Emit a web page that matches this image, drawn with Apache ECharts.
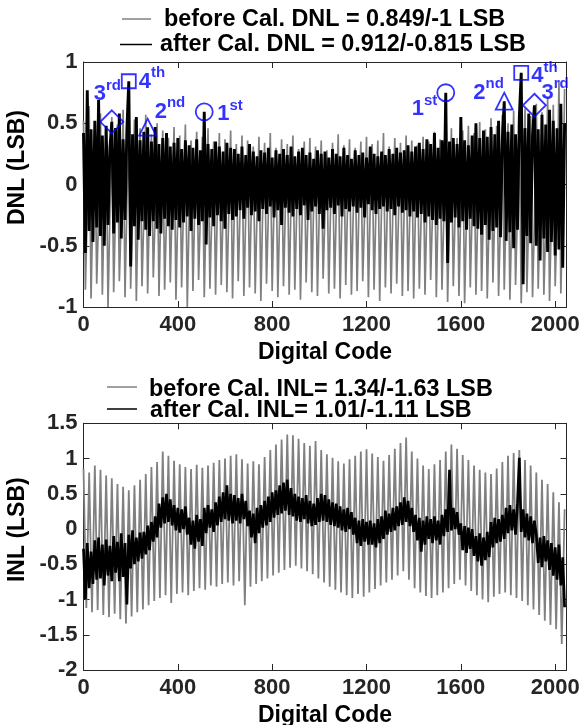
<!DOCTYPE html>
<html>
<head>
<meta charset="utf-8">
<script src="https://cdn.jsdelivr.net/npm/echarts@6/dist/echarts.min.js"></script>
<style>
  html, body { margin: 0; padding: 0; background: #fff; }
  #chart { width: 580px; height: 725px; }
</style>
</head>
<body>
<div id="chart"></div>
<script>
// ---- data -------------------------------------------------------------
const codeMax = 2048;
const xTickStep = 400;

// DNL samples every 8 codes (codes 0 .. 2040)
const dnlStep = 8;

// before calibration: groups of (peak, missing-code dip, settle)
const dnlBefore = [
  0.52, -0.86, -0.21,  0.64, -0.93, -0.15,  0.47, -0.81, -0.26,  0.58, -0.90, -0.12,  0.44, -1.00, -0.24,
  0.55, -0.88, -0.18,  0.49, -0.79, -0.27,  0.61, -0.92, -0.14,  0.42, -0.85, -0.22,  0.53, -0.95, -0.17,
  0.46, -0.83, -0.25,  0.57, -0.89, -0.13,  0.41, -0.76, -0.23,  0.50, -0.91, -0.19,  0.44, -0.86, -0.26,
  0.38, -0.80, -0.15,  0.47, -0.94, -0.21,  0.40, -0.84, -0.18,  0.49, -1.00, -0.24,  0.36, -0.87, -0.14,
  0.43, -0.78, -0.22,  0.39, -0.92, -0.19,  0.46, -0.85, -0.25,  0.35, -0.90, -0.16,  0.42, -0.82, -0.21,
  0.37, -0.88, -0.23,  0.44, -0.93, -0.17,  0.33, -0.79, -0.20,  0.40, -0.91, -0.24,  0.36, -0.84, -0.15,
  0.31, -0.89, -0.21,  0.39, -0.95, -0.18,  0.34, -0.81, -0.22,  0.42, -0.87, -0.16,  0.30, -0.92, -0.23,
  0.37, -0.83, -0.19,  0.33, -0.90, -0.14,  0.40, -0.86, -0.21,  0.29, -0.94, -0.17,  0.35, -0.80, -0.22,
  0.38, -0.88, -0.15,  0.31, -0.91, -0.20,  0.36, -0.77, -0.23,  0.28, -0.89, -0.16,  0.34, -0.85, -0.19,
  0.41, -0.93, -0.22,  0.32, -0.82, -0.14,  0.37, -0.90, -0.21,  0.30, -0.87, -0.18,  0.35, -0.79, -0.23,
  0.39, -0.92, -0.16,  0.33, -0.86, -0.20,  0.36, -0.95, -0.15,  0.42, -0.84, -0.22,  0.31, -0.89, -0.19,
  0.38, -0.81, -0.24,  0.34, -0.91, -0.17,  0.40, -0.87, -0.21,  0.36, -0.93, -0.16,  0.32, -0.85, -0.23,
  0.39, -0.90, -0.18,  0.35, -0.78, -0.22,  0.43, -0.92, -0.15,  0.37, -0.86, -0.24,  0.41, -0.96, -0.19,
  0.46, -0.83, -0.21,  0.38, -0.91, -0.17,  0.44, -0.97, -0.25,  0.48, -0.84, -0.20,  0.42, -0.90, -0.23,
  0.51, -0.87, -0.18,  0.45, -0.93, -0.26,  0.54, -0.80, -0.21,  0.48, -0.91, -0.28,  0.57, -0.86, -0.19,
  0.50, -0.94, -0.27,  0.60, -0.82, -0.22,  0.53, -0.97, -0.30,  0.62, -0.88, -0.24,  0.56, -0.92, -0.29,
  0.66, -0.85, -0.23,  0.59, -0.90, -0.31,  0.71, -0.95, -0.26,  0.65, -0.83, -0.28,  0.849, -0.89, -0.24,
  0.78
];

// after calibration
const dnlAfter = [
  0.42, -0.56, 0.77, -0.38, 0.45, -0.47, 0.52, -0.35, 0.69, -0.42, 0.40, -0.50, 0.48, -0.33, 0.30, 0.512,
  -0.40, 0.46, -0.31, 0.58, -0.44, 0.37, -0.29, 0.45, 0.843, -0.67, 0.41, -0.34, 0.55, -0.45, 0.36, -0.30,
  0.43, -0.37, 0.468, -0.42, 0.35, -0.30, 0.47, -0.36, 0.33, -0.40, 0.38, -0.28, 0.42, -0.34, 0.31, -0.37,
  0.34, -0.29, 0.38, -0.35, 0.29, -0.31, 0.36, -0.26, 0.32, -0.38, 0.30, -0.28, 0.37, -0.33, 0.28, -0.30,
  0.593, -0.49, 0.33, -0.27, 0.29, -0.34, 0.35, -0.25, 0.31, -0.30, 0.27, -0.36, 0.34, -0.24, 0.30, -0.29,
  0.29, -0.26, 0.25, -0.21, 0.31, -0.28, 0.24, -0.19, 0.33, -0.25, 0.27, -0.22, 0.23, -0.30, 0.28, -0.20,
  0.26, -0.24, 0.30, -0.18, 0.22, -0.27, 0.28, -0.21, 0.25, -0.33, 0.29, -0.19, 0.24, -0.23, 0.31, -0.26,
  0.23, -0.20, 0.27, -0.25, 0.30, -0.17, 0.24, -0.29, 0.26, -0.22, 0.21, -0.18, 0.28, -0.24, 0.25, -0.36,
  0.27, -0.21, 0.22, -0.19, 0.29, -0.24, 0.25, -0.17, 0.23, -0.26, 0.30, -0.20, 0.24, -0.22, 0.21, -0.18,
  0.28, -0.23, 0.24, -0.19, 0.26, -0.27, 0.22, -0.16, 0.31, -0.21, 0.25, -0.24, 0.23, -0.20, 0.27, -0.18,
  0.24, -0.22, 0.29, -0.20, 0.25, -0.25, 0.30, -0.18, 0.26, -0.23, 0.28, -0.21, 0.32, -0.26, 0.27, -0.22,
  0.31, -0.27, 0.34, -0.24, 0.29, -0.31, 0.37, -0.26, 0.33, -0.29, 0.42, -0.33, 0.30, -0.28, 0.36, -0.30,
  0.749, -0.64, 0.35, -0.31, 0.38, -0.27, 0.33, -0.35, 0.55, -0.30, 0.36, -0.37, 0.32, -0.28, 0.40, -0.34,
  0.50, -0.36, 0.38, -0.41, 0.44, -0.33, 0.39, -0.45, 0.47, -0.38, 0.41, -0.35, 0.52, -0.43, 0.37, 0.68,
  -0.46, 0.43, -0.39, 0.49, -0.52, 0.41, -0.37, 0.55, 0.912, -0.815, 0.46, -0.42, 0.58, -0.48, 0.40, 0.647,
  -0.50, 0.45, -0.62, 0.57, -0.44, 0.49, -0.55, 0.61, -0.47, 0.52, -0.58, 0.46, -0.53, 0.66, -0.68, 0.50
];

// INL before calibration: alternating top / bottom every 12 codes
const inlBeforeStep = 12;
const inlBefore = [
  0.86, -1.12, 0.80, -1.18, 0.90, -1.15, 0.84, -1.22, 0.76, -1.25, 0.72, -1.20, 0.64, -1.28, 0.60, -1.34,
  0.55, -1.24, 0.62, -1.18, 0.70, -1.14, 0.78, -1.08, 0.88, -1.02, 0.95, -0.98, 1.10, -0.94, 1.04, -1.05,
  0.97, -0.92, 0.92, -0.90, 0.88, -0.94, 0.85, -0.88, 0.91, -0.84, 0.87, -0.86, 0.90, -0.80, 0.94, -0.82,
  0.98, -0.78, 1.00, -0.76, 1.04, -0.80, 1.06, -0.74, 0.99, -1.08, 0.93, -0.82, 0.96, -0.78, 0.92, -0.74,
  1.02, -0.70, 1.12, -0.66, 1.20, -0.62, 1.27, -0.58, 1.34, -0.55, 1.33, -0.52, 1.28, -0.56, 1.22, -0.60,
  1.18, -0.64, 1.25, -0.70, 1.12, -0.76, 1.06, -0.82, 1.01, -0.86, 0.96, -0.90, 0.93, -0.94, 0.99, -0.98,
  1.04, -0.92, 1.10, -0.96, 1.13, -0.90, 1.07, -0.85, 1.02, -0.80, 0.97, -0.76, 1.05, -0.72, 1.14, -0.66,
  1.22, -0.60, 1.30, -0.72, 1.10, -0.84, 1.00, -0.90, 0.90, -0.95, 0.85, -0.98, 0.92, -0.94, 0.98, -0.90,
  1.10, -0.84, 1.20, -0.78, 1.14, -0.72, 1.05, -0.80, 0.98, -0.88, 0.90, -0.94, 0.84, -1.00, 0.80, -1.04,
  0.78, -0.96, 0.86, -0.92, 0.95, -0.90, 1.04, -0.94, 1.08, -0.98, 1.12, -1.02, 0.98, -1.08, 0.90, -1.14,
  0.80, -1.22, 0.70, -1.30, 0.64, -1.36, 0.52, -1.42, 0.38, -1.63, 0.28
];

// INL after calibration, every 8 codes
const inlAfterStep = 8;
const inlAfter = [
  -0.28, -1.00, -0.20, -0.84, -0.32, -0.78, -0.16, -0.72,
  -0.12, -0.70, -0.22, -0.80, -0.15, -0.66, -0.24, -0.74,
  -0.10, -0.62, -0.18, -0.74, -0.06, -0.68, -0.20, -1.07,
  -0.08, -0.56, -0.02, -0.50, -0.12, -0.46, -0.05, -0.42,
  -0.04, -0.36, 0.05, -0.30, 0.10, -0.18, 0.18, -0.12,
  0.36, 0.02, 0.45, 0.08, 0.50, 0.10, 0.42, 0.05,
  0.34, -0.02, 0.30, -0.05, 0.28, 0.00, 0.32, -0.08,
  0.16, -0.22, 0.12, -0.28, 0.20, -0.18, 0.14, -0.24,
  0.30, -0.06, 0.34, 0.02, 0.28, -0.04, 0.38, 0.05,
  0.46, 0.10, 0.52, 0.14, 0.62, 0.12, 0.50, 0.08,
  0.48, 0.12, 0.44, 0.08, 0.50, 0.14, 0.40, 0.04,
  0.26, -0.12, 0.22, -0.20, 0.30, -0.06, 0.34, 0.02,
  0.40, 0.05, 0.46, 0.10, 0.52, 0.16, 0.55, 0.20,
  0.62, 0.22, 0.66, 0.26, 0.70, 0.20, 0.58, 0.18,
  0.50, 0.12, 0.46, 0.10, 0.44, 0.14, 0.48, 0.08,
  0.40, 0.04, 0.36, 0.06, 0.44, 0.10, 0.50, 0.12,
  0.48, 0.10, 0.42, 0.06, 0.38, 0.04, 0.36, 0.02,
  0.32, -0.02, 0.28, -0.04, 0.30, 0.00, 0.24, -0.08,
  0.16, -0.20, 0.12, -0.24, 0.14, -0.18, 0.10, -0.22,
  0.12, -0.22, 0.08, -0.26, 0.14, -0.20, 0.18, -0.14,
  0.26, -0.08, 0.22, -0.04, 0.30, -0.02, 0.32, 0.04,
  0.38, 0.06, 0.45, 0.10, 0.40, 0.04, 0.30, -0.04,
  0.20, -0.16, 0.16, -0.32, 0.12, -0.22, 0.18, -0.14,
  0.14, -0.20, 0.18, -0.16, 0.12, -0.22, 0.20, -0.10,
  0.28, -0.04, 0.84, -0.02, 0.30, 0.00, 0.24, -0.08,
  0.08, -0.30, 0.04, -0.34, 0.02, -0.28, 0.00, -0.38,
  -0.10, -0.46, -0.06, -0.52, -0.12, -0.44, -0.04, -0.40,
  0.10, -0.26, 0.16, -0.20, 0.14, -0.18, 0.20, -0.14,
  0.30, -0.06, 0.34, -0.02, 0.28, -0.08, 0.36, 1.01,
  -0.04, 0.28, -0.12, 0.22, -0.16, 0.18, -0.20, 0.12,
  -0.08, -0.48, -0.12, -0.54, -0.10, -0.46, -0.16, -0.58,
  -0.20, -0.66, -0.26, -0.72, -0.22, -0.80, -0.40, -1.11
];

// calibrated codes marked on the DNL plot, and their calibration order
const calCodes = [120, 192, 272, 512, 1536, 1784, 1856, 1912];
const calOrder = ['3rd', '4th', '2nd', '1st', '1st', '2nd', '4th', '3rd'];

// ---- styling ----------------------------------------------------------
const FONT = 'Liberation Sans';
const GRAY = '#808080';
const BLUE = '#0000ff';
const AXIS = '#262626';

const orderSymbol = {
  '1st': { symbol: 'circle', size: 17 },
  '2nd': { symbol: 'triangle', size: [17, 17] },
  '3rd': { symbol: 'diamond', size: [23, 23] },
  '4th': { symbol: 'rect', size: [14, 14] }
};
// label offsets from each marker centre: [left edge of numeral, vertical centre]
const labelOffsets = [[-18, -30], [10, -2], [7, -18], [13, 0], [-34, 14], [-31, -11], [10, 1], [7, -15]];

const grids = [
  { left: 83.5, top: 62, width: 483, height: 245 },
  { left: 83.5, top: 423.3, width: 483, height: 246.7 }
];

const tickLabel = { fontSize: 22, fontWeight: 'bold', color: AXIS, fontFamily: FONT };
const nameStyle = { fontSize: 23, fontWeight: 'bold', color: '#000', fontFamily: FONT };

function xAxes(gridIndex) {
  const base = {
    gridIndex, type: 'value', min: 0, max: codeMax, interval: xTickStep,
    splitLine: { show: false },
    axisLine: { show: true, onZero: false, lineStyle: { color: AXIS, width: 1 } },
    axisTick: { show: true, inside: true, length: 6, lineStyle: { color: AXIS } }
  };
  return [
    Object.assign({}, base, {
      position: 'bottom',
      axisLabel: Object.assign({ show: true, margin: 7, showMaxLabel: false, formatter: v => String(v) }, tickLabel),
      name: 'Digital Code', nameLocation: 'middle', nameGap: 34, nameTextStyle: nameStyle
    }),
    Object.assign({}, base, { position: 'top', axisLabel: { show: false } })
  ];
}

function yAxes(gridIndex, min, max, title) {
  const base = {
    gridIndex, type: 'value', min, max, interval: 0.5,
    splitLine: { show: false },
    axisLine: { show: true, onZero: false, lineStyle: { color: AXIS, width: 1 } },
    axisTick: { show: true, inside: true, length: 6, lineStyle: { color: AXIS } }
  };
  return [
    Object.assign({}, base, {
      position: 'left',
      axisLabel: Object.assign({ show: true, margin: 6, formatter: v => String(v) }, tickLabel),
      name: title, nameLocation: 'middle', nameGap: 39,
      nameTextStyle: Object.assign({ padding: [0, 0, 0, 34] }, nameStyle)
    }),
    Object.assign({}, base, { position: 'right', axisLabel: { show: false } })
  ];
}

function lineSeries(values, step, color, width, xi, yi, z) {
  return {
    type: 'line', xAxisIndex: xi, yAxisIndex: yi, z,
    data: values.map((v, i) => [i * step, v]),
    showSymbol: false, symbol: 'none', sampling: null,
    lineStyle: { color, width, join: 'bevel' },
    itemStyle: { color },
    emphasis: { disabled: true },
    silent: true
  };
}

const markerData = calCodes.map((code, i) => {
  const ord = calOrder[i];
  const sym = orderSymbol[ord];
  return {
    value: [code, dnlAfter[code / dnlStep]],
    symbol: sym.symbol,
    symbolSize: sym.size,
    label: {
      offset: labelOffsets[i],
      formatter: '{b|' + ord.charAt(0) + '}{s|' + ord.slice(1) + '}'
    }
  };
});

const legendFont = 'bold 23.4px "' + FONT + '"';
function legendRow(x1, x2, y, color, tx, ty, text) {
  return [
    { type: 'line', shape: { x1, y1: y, x2, y2: y }, style: { stroke: color, lineWidth: 1.5 } },
    { type: 'text', x: tx, y: ty, style: { text, font: legendFont, fill: '#000', align: 'left', verticalAlign: 'middle' } }
  ];
}

const option = {
  animation: false,
  backgroundColor: '#fff',
  textStyle: { fontFamily: FONT },
  grid: grids.map(g => Object.assign({ containLabel: false, outerBoundsMode: 'none' }, g)),
  xAxis: xAxes(0).concat(xAxes(1)),
  yAxis: yAxes(0, -1, 1, 'DNL (LSB)').concat(yAxes(1, -2, 1.5, 'INL (LSB)')),
  series: [
    lineSeries(dnlBefore, dnlStep, GRAY, 1.7, 0, 0, 2),
    lineSeries(dnlAfter, dnlStep, '#000', 2.9, 0, 0, 4),
    {
      type: 'scatter', xAxisIndex: 0, yAxisIndex: 0, z: 6,
      data: markerData,
      itemStyle: { color: 'rgba(0,0,0,0)', borderColor: BLUE, borderWidth: 1.8 },
      emphasis: { disabled: true },
      silent: true,
      label: {
        show: true, position: 'inside', align: 'left', verticalAlign: 'middle',
        color: BLUE, textBorderWidth: 0, textBorderColor: 'transparent',
        rich: {
          b: { fontSize: 22, fontWeight: 'bold', color: BLUE, fontFamily: FONT, verticalAlign: 'bottom' },
          s: { fontSize: 15, fontWeight: 'bold', color: BLUE, fontFamily: FONT, verticalAlign: 'top', lineHeight: 27 }
        }
      }
    },
    lineSeries(inlBefore, inlBeforeStep, GRAY, 1.8, 2, 2, 2),
    lineSeries(inlAfter, inlAfterStep, '#000', 2.7, 2, 2, 4)
  ],
  graphic: [].concat(
    legendRow(122, 151, 19, GRAY, 164, 20, 'before Cal. DNL = 0.849/-1 LSB'),
    legendRow(120, 152, 44.5, '#000', 160, 44.5, 'after Cal. DNL = 0.912/-0.815 LSB'),
    legendRow(107, 137, 387, GRAY, 149, 390, 'before Cal. INL= 1.34/-1.63 LSB'),
    legendRow(107, 137, 409, '#000', 150, 411, 'after Cal. INL= 1.01/-1.11 LSB')
  )
};

const chart = echarts.init(document.getElementById('chart'), null, { renderer: 'canvas' });
chart.setOption(option);
</script>
</body>
</html>
